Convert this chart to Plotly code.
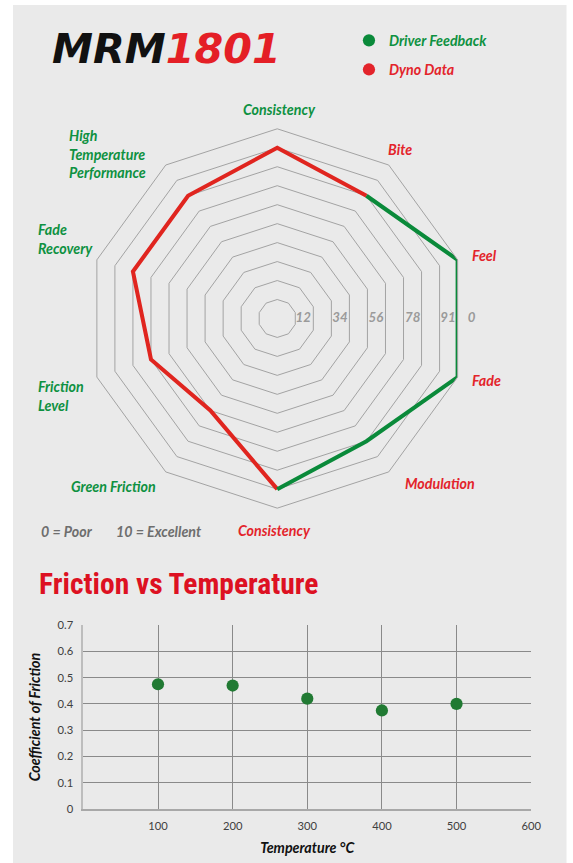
import plotly.graph_objects as go

# ---------------- data ----------------
# radar axes (clockwise from top)
AXIS_LABELS = ["Consistency", "Bite", "Feel", "Fade", "Modulation", "Consistency",
               "Green Friction", "Friction Level", "Fade Recovery",
               "High Temperature Performance"]
AXIS_KEYS = [f"{i}:{n}" for i, n in enumerate(AXIS_LABELS)]

# Dyno Data path (red)
DYNO_AXES = [1, 0, 9, 8, 7, 6, 5]
DYNO_VALUES = [8, 9, 8, 8, 7, 6, 9]
# Driver Feedback path (green)
DRIVER_AXES = [1, 2, 3, 4, 5]
DRIVER_VALUES = [8, 10, 10, 8, 9]

RING_LABELS = ["12", "34", "56", "78", "91", "0"]

TEMPS = [100, 200, 300, 400, 500]
COF = [0.475, 0.47, 0.42, 0.375, 0.40]

# ---------------- styling ----------------
RED = "#E3242B"
GREEN = "#0E9141"
LINE_RED = "#E0251F"
LINE_GREEN = "#0A8A3A"
DOT_GREEN = "#217A33"
GRID = "#A3A3A3"
PANEL = "#EAEAEA"
LABEL_FONT = "Lato, 'Open Sans', sans-serif"

# page geometry (the capture shrinks the page slightly, so lay out on a
# marginally larger canvas and map target pixel positions onto it)
CAP_SCALE = 0.982
CAP_OFFY = 8
K = 1 / CAP_SCALE
W, H = 584, 871


def sx(x):
    return x * K


def sy(y):
    return (y - CAP_OFFY) * K


def px(x):
    return sx(x) / W


def py(y):
    return 1 - sy(y) / H


def fs(v):
    return round(v * K, 2)


cx, cy, R = 277, 318.5, 189.5
radar_domain = dict(x=[px(cx - R), px(cx + R)], y=[py(cy + R), py(cy - R)])
R2 = R * 1.1  # helper polar for ring labels, radial range 0..11
label_domain = dict(x=[px(cx - R2), px(cx + R2)], y=[py(cy + R2), py(cy - R2)])

fig = go.Figure()

fig.add_trace(go.Scatterpolar(
    r=DYNO_VALUES, theta=[AXIS_KEYS[i] for i in DYNO_AXES], mode="lines",
    line=dict(color=LINE_RED, width=fs(4)), subplot="polar", showlegend=False,
    name="Dyno Data"))
fig.add_trace(go.Scatterpolar(
    r=DRIVER_VALUES, theta=[AXIS_KEYS[i] for i in DRIVER_AXES], mode="lines",
    line=dict(color=LINE_GREEN, width=fs(4)), subplot="polar", showlegend=False,
    name="Driver Feedback"))

# ring labels along the 0° direction
RING_POS = [1.37, 3.31, 5.2, 7.14, 9.0, 10.25]
fig.add_trace(go.Scatterpolar(
    r=RING_POS, theta=[0] * len(RING_POS), mode="text", text=RING_LABELS,
    textfont=dict(family=LABEL_FONT, size=fs(13), color="#9A9A9A", style="italic", weight="bold"),
    subplot="polar2", showlegend=False, cliponaxis=False, hoverinfo="skip"))

# scatter chart
fig.add_trace(go.Scatter(
    x=TEMPS, y=COF, mode="markers",
    marker=dict(color=DOT_GREEN, size=fs(12)), showlegend=False))

# legend entries
fig.add_trace(go.Scatter(
    x=[None], y=[None], mode="markers", marker=dict(color=LINE_GREEN, size=fs(12)),
    name=f"<span style='color:{GREEN}'>Driver Feedback</span>", legendgroup="a"))
fig.add_trace(go.Scatter(
    x=[None], y=[None], mode="markers", marker=dict(color=RED, size=fs(12)),
    name=f"<span style='color:{RED}'>Dyno Data</span>", legendgroup="b"))

annotations = []

# radar axis labels: (label index, x, y, xanchor, color)
LABEL_POS = [
    (0, 279, 110, "center", GREEN),
    (1, 400, 150, "center", RED),
    (2, 470, 256, "left", RED),
    (3, 470, 380, "left", RED),
    (4, 440, 483, "center", RED),
    (5, 274, 530, "center", RED),
    (6, 113, 486, "center", GREEN),
    (7, 36, 396, "left", GREEN),
    (8, 36, 239, "left", GREEN),
    (9, 67, 154.5, "left", GREEN),
]
WRAPPED = {7: "Friction<br>Level", 8: "Fade<br>Recovery",
           9: "High<br>Temperature<br>Performance"}
for i, x, y, xa, col in LABEL_POS:
    annotations.append(dict(
        text=WRAPPED.get(i, AXIS_LABELS[i]), x=px(x), y=py(y), xref="paper", yref="paper",
        xanchor=xa, yanchor="middle", align="left", showarrow=False,
        font=dict(family=LABEL_FONT, size=fs(14), color=col, style="italic", weight="bold")))

# scale note
annotations.append(dict(
    text="0 = Poor", x=px(39), y=py(531), xref="paper", yref="paper",
    xanchor="left", yanchor="middle", showarrow=False,
    font=dict(family=LABEL_FONT, size=fs(14), color="#6E6E6E", style="italic", weight="bold")))
annotations.append(dict(
    text="10 = Excellent", x=px(114), y=py(531), xref="paper", yref="paper",
    xanchor="left", yanchor="middle", showarrow=False,
    font=dict(family=LABEL_FONT, size=fs(14), color="#6E6E6E", style="italic", weight="bold")))

# logo
annotations.append(dict(
    text="<span style='color:#111111'>MRM</span><span style='color:#E41F26'>1801</span>",
    x=px(50), y=py(50), xref="paper", yref="paper", xanchor="left", yanchor="middle",
    showarrow=False,
    font=dict(family="'DejaVu Sans', sans-serif", size=fs(40.5), style="italic", weight="bold")))

# section title
annotations.append(dict(
    text="Friction vs Temperature", x=px(37), y=py(583), xref="paper", yref="paper",
    xanchor="left", yanchor="middle", showarrow=False,
    font=dict(family="'Roboto Condensed', 'Liberation Sans Narrow', 'DejaVu Sans Condensed', Roboto",
              size=fs(29), color="#DD1122", weight="bold")))

fig.update_layout(
    width=W, height=H,
    margin=dict(l=0, r=0, t=0, b=0),
    paper_bgcolor="white", plot_bgcolor="rgba(0,0,0,0)",
    shapes=[dict(type="rect", xref="paper", yref="paper",
                 x0=px(13), x1=px(566), y0=py(862.5), y1=py(6),
                 fillcolor=PANEL, line=dict(width=0), layer="below")],
    polar=dict(
        domain=radar_domain, bgcolor="rgba(0,0,0,0)", gridshape="linear",
        angularaxis=dict(type="category", categoryarray=AXIS_KEYS, rotation=90,
                         direction="clockwise", showticklabels=False, ticks="",
                         showgrid=False, showline=True, linecolor=GRID, linewidth=1),
        radialaxis=dict(range=[0, 10], dtick=1, showticklabels=False, ticks="",
                        showline=False, gridcolor=GRID, gridwidth=1)),
    polar2=dict(
        domain=label_domain, bgcolor="rgba(0,0,0,0)",
        angularaxis=dict(visible=False, rotation=0),
        radialaxis=dict(visible=False, range=[0, 11])),
    xaxis=dict(domain=[px(83.3), px(530.7)], range=[0, 600], tickvals=[100, 200, 300, 400, 500, 600],
               showgrid=True, gridcolor="#8A8A8A", gridwidth=1, zeroline=False,
               showline=True, linecolor="#A8A8A8", linewidth=2, ticks="",
               tickfont=dict(family=LABEL_FONT, size=fs(11), color="#404040"), ticklabelstandoff=6,
               title=dict(text="Temperature °C", standoff=11.5,
                          font=dict(family=LABEL_FONT, size=fs(14), color="#111111",
                                    style="italic", weight="bold"))),
    yaxis=dict(domain=[py(807.3), py(624.3)], range=[0, 0.7], dtick=0.1,
               showgrid=True, gridcolor="#8A8A8A", gridwidth=1, zeroline=False,
               showline=True, linecolor="#BDBDBD", linewidth=2, ticks="",
               tickfont=dict(family=LABEL_FONT, size=fs(11), color="#404040"), ticklabelstandoff=6,
               title=dict(text="Coefficient of Friction", standoff=14,
                          font=dict(family=LABEL_FONT, size=fs(14), color="#111111",
                                    style="italic", weight="bold"))),
    legend=dict(x=(sx(368) - 19.7) / W, y=1 - (sy(41) - 15.8) / H, xanchor="left", yanchor="top",
                bgcolor="rgba(0,0,0,0)", tracegroupgap=7.6,
                font=dict(family=LABEL_FONT, size=fs(14), style="italic", weight="bold")),
    annotations=annotations,
)

PIN_TO_VIEWPORT = (
    "document.documentElement.style.margin='0';"
    "document.body.style.margin='0';"
    "var g=document.querySelector('.plotly-graph-div');"
    "g.style.position='fixed';g.style.left='0px';g.style.top='0px';"
)
fig.write_html("out.html", config={"displayModeBar": False}, post_script=PIN_TO_VIEWPORT)
